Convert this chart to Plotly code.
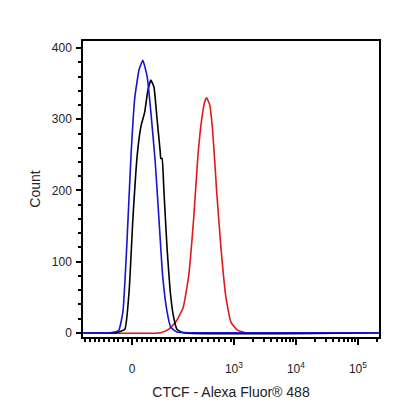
import numpy as np
import plotly.graph_objects as go

# x in display (biexponential-like) units: 0 -> 1.355, 10^3 -> 3, 10^4 -> 4, 10^5 -> 5
blue_x = [0.56, 1.0, 1.14, 1.21, 1.27, 1.34, 1.40, 1.47, 1.53, 1.60, 1.66, 1.73, 1.79, 1.85, 1.92, 1.98, 2.08, 2.3, 5.34]
blue_y = [0, 0, 3, 30, 120, 250, 330, 370, 383, 360, 310, 240, 160, 80, 30, 8, 1, 0, 0]

black_x = [0.56, 1.1, 1.24, 1.31, 1.37, 1.44, 1.50, 1.56, 1.61, 1.66, 1.71, 1.76, 1.81, 1.82, 1.84, 1.87, 1.92, 1.97, 2.02, 2.08, 2.18, 5.34]
black_y = [0, 0, 5, 60, 160, 250, 290, 310, 340, 355, 345, 300, 255, 245, 245, 200, 120, 60, 25, 5, 0, 0]

red_x = [0.56, 1.82, 1.95, 2.06, 2.18, 2.27, 2.35, 2.42, 2.48, 2.53, 2.56, 2.61, 2.66, 2.72, 2.79, 2.87, 2.95, 3.05, 3.19, 5.34]
red_y = [0, 0, 5, 15, 35, 80, 160, 250, 300, 325, 330, 320, 280, 200, 120, 50, 15, 4, 0, 0]

tick_vals = [1.355, 3, 4, 5]
tick_text = ["0", "10<sup>3</sup>", "10<sup>4</sup>", "10<sup>5</sup>"]

# minor ticks (styling only)
minor = []
for k in [3, 4]:
    for m in range(2, 10):
        minor.append(k + np.log10(m))
minor += [5 + np.log10(m) for m in range(2, 4)]
minor += list(np.linspace(0.6, 2.2, 22))
minor += list(np.linspace(2.3, 2.95, 8))

fig = go.Figure()
for xs, ys, c in [(red_x, red_y, "#e0191e"), (black_x, black_y, "black"), (blue_x, blue_y, "#1515d0")]:
    fig.add_trace(go.Scatter(x=xs, y=ys, mode="lines", line=dict(color=c, width=1.6, shape="spline", smoothing=0.4)))

fig.update_layout(
    width=416, height=416, showlegend=False,
    paper_bgcolor="white", plot_bgcolor="white",
    margin=dict(l=75, r=45, t=33, b=87),
    font=dict(family="Liberation Sans, Arial", size=12, color="#222"),
)
fig.update_xaxes(range=[0.565, 5.34], tickvals=tick_vals, ticktext=tick_text, automargin=False,
                 ticks="outside", ticklen=6, tickwidth=1.5, tickcolor="black", ticklabelstandoff=14,
                 minor=dict(tickvals=minor, ticks="outside", ticklen=3, tickcolor="black"),
                 showgrid=False, zeroline=False, showline=True, linecolor="black", linewidth=1.5, mirror=True,
                 title=dict(text="CTCF - Alexa Fluor® 488", standoff=12), tickfont=dict(size=12))
fig.update_yaxes(range=[-6, 410], tickvals=[0, 100, 200, 300, 400], automargin=False,
                 ticks="outside", ticklen=5, tickwidth=1.5, tickcolor="black", ticklabelstandoff=2,
                 minor=dict(dtick=20, ticks="outside", ticklen=3, tickcolor="black"),
                 showgrid=False, zeroline=False, showline=True, linecolor="black", linewidth=1.5, mirror=True,
                 title=dict(text="Count", standoff=8), tickfont=dict(size=12))
fig.write_html("out.html")
